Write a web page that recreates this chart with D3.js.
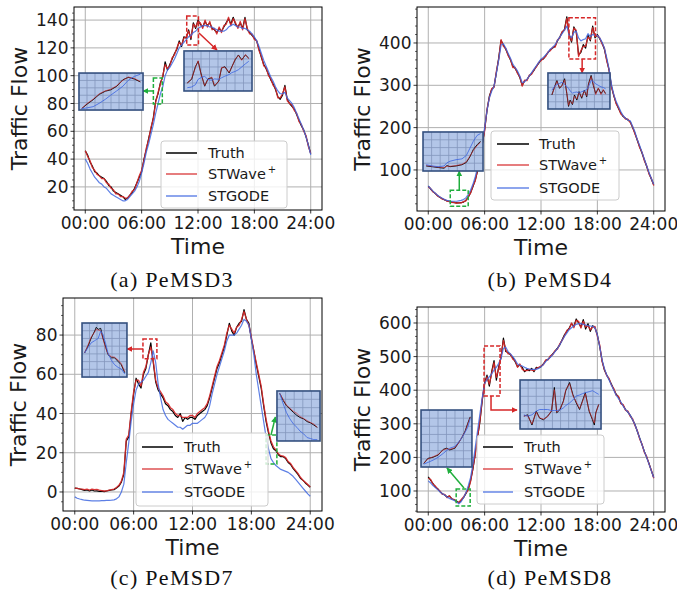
<!DOCTYPE html>
<html><head><meta charset="utf-8">
<script src="https://cdn.jsdelivr.net/npm/d3@7"></script>
<style>body{margin:0;background:#fff}svg{display:block}</style>
</head><body>
<script>
// ---------------- data (15-minute samples, 00:00 .. 24:00) ----------------
const STEP_HOURS = 0.25;
const xTickHours = [0, 6, 12, 18, 24];
const xTickLabels = ["00:00", "06:00", "12:00", "18:00", "24:00"];
const seriesNames = ["Truth", "STWave", "STGODE"];

const pemsd3Truth = [46,43,38,35,31,30,28,27,26,24,21,20, 17,16,15,14,13,11,12,14,16,19,23,27, 31,40,47,55,62,70,82,87,95,99,110,104, 108,112,116,119,125,121,128,127,133,126,138,134, 140,137,135,139,136,138,134,133,131,134,132,135, 138,141,137,142,137,135,138,134,142,133,131,129, 127,125,119,113,108,105,101,97,94,90,85,83, 86,93,83,80,78,76,72,68,64,61,56,50, 44];
const pemsd3STWave = [46,42,39,34,32,29,28,26,26,23,22,19, 18,15,15,13,13,12,12,14,17,18,23,28, 32,39,48,54,63,69,81,88,94,100,108,105, 107,113,115,120,124,122,127,128,132,127,137,135, 139,138,134,140,135,139,133,134,130,135,131,136, 137,142,136,141,138,134,139,133,141,134,130,130, 126,125,118,114,107,106,100,98,93,91,84,84, 87,92,82,80,79,75,73,67,65,60,57,49, 44];
const pemsd3STGODE = [40,37,33,30,27,25,23,22,20,19,17,15, 14,13,12,11,10,10,11,13,15,17,20,24, 30,37,45,51,58,65,73,80,87,92,100,104, 106,109,112,116,120,122,124,126,128,129,131,132, 134,135,136,136,136,135,135,134,133,132,132,132, 133,135,136,137,136,135,135,134,134,133,132,130, 128,125,121,116,111,107,103,99,96,92,89,87, 87,88,84,82,80,77,73,69,65,61,56,50, 43];
const pemsd3Ticks = [20, 40, 60, 80, 100, 120, 140];

const pemsd4Truth = [62,55,49,44,39,35,32,29,27,25,24,23, 22,22,23,24,28,35,46,60,76,98,124,160, 195,240,274,290,297,330,365,406,395,385,372,360, 345,340,330,318,300,310,313,322,328,335,345,352, 360,362,370,377,384,388,392,405,414,425,432,462, 420,402,438,426,372,378,396,388,418,405,440,412, 420,410,400,385,360,335,298,275,258,245,234,226, 222,218,214,200,187,170,155,140,124,108,92,78, 65];
const pemsd4STWave = [60,56,48,45,38,36,31,30,26,26,23,24, 21,23,22,25,27,37,45,62,74,100,122,162, 193,243,271,292,295,333,362,408,392,387,370,362, 342,342,328,320,298,312,311,324,326,337,343,354, 358,364,368,379,382,390,390,407,412,427,430,458, 418,405,435,430,368,382,392,392,414,408,436,416, 418,412,398,388,357,337,295,277,256,247,232,228, 220,220,212,202,185,172,153,142,122,110,90,80, 63];
const pemsd4STGODE = [62,56,50,45,40,36,33,30,28,27,26,26, 26,27,28,30,34,42,52,66,84,106,132,165, 200,240,270,286,298,328,360,395,398,388,376,364, 350,342,334,322,306,308,314,322,330,338,346,354, 362,366,372,378,386,390,396,406,414,422,430,440, 418,412,425,428,412,405,408,410,422,415,420,418, 418,412,402,388,365,338,302,278,262,250,238,228, 222,218,216,203,190,172,158,142,126,110,94,80, 66];
const pemsd4Ticks = [100, 200, 300, 400];

const pemsd7Truth = [2,1.8,1.5,1.2,0.8,1,0.5,1,0.5,0.6,0.3,0.4, 0.2,0.5,0.8,1,1.2,2,3,5,9,26,28,40, 50,58,55,53,60,63,70,76,66,56,52,50, 48,45,44,42,41,39,38,40,36,38,37,38, 38,37,39,40,41,42,44,48,53,58,63,66, 70,74,80,86,82,80,84,86,87,93,88,86, 78,72,65,59,53,44,36,30,25,22,21,19, 18,18,17,15,14,12,10.5,9,7,6,4.6,3.5, 2.4];
const pemsd7STWave = [2,1.8,1.6,1.5,1.2,1.4,1,1.5,1.2,1.3,0.9,0.7, 0.5,0.6,0.9,1.2,1.5,2.3,3.4,5.5,10,27,29,41, 51,57,57,54,61,64,70,74,67,57,53,51, 49,46,45,43,42,40,39,39,38,38,38,39, 39,38,40,41,42,43,45,49,54,59,64,67, 71,75,81,85,83,81,84,85,88,92,88,85, 79,72,66,60,54,45,37,31,26,23,21.5,19.5, 18.5,18.3,17.5,15.5,14.5,12.5,11,9.5,7.5,6,5,3.8, 2.6];
const pemsd7STGODE = [-2.5,-3.2,-3.6,-3.9,-4.2,-4.3,-4.4,-4.5,-4.5,-4.5,-4.5,-4.4, -4.4,-4.3,-4.3,-4.2,-4,-3.5,-2.5,0,4,15,25,36, 45,52,55,56,57,59,61,66,72,66,55,48, 42,39,37,36,35,34,33,33,32,33,34,34, 35,35,35,36,37,38,40,44,50,55,60,64, 68,72,77,80,80,80,81,83,85,88,87,85, 78,70,60,52,44,36,28,22,17,15,13.5,12.5, 11.5,11,10.5,10,9,8,6.5,5,3.5,2,0.5,-1, -2.2];
const pemsd7Ticks = [0, 20, 40, 60, 80];

const pemsd8Truth = [142,132,122,112,107,98,92,88,82,85,77,74, 70,65,72,80,92,105,130,165,210,260,306,370, 422,445,412,455,488,430,470,498,555,515,512,505, 496,485,470,475,468,455,462,458,465,455,468,466, 470,478,488,492,500,508,516,525,535,550,565,575, 585,598,590,612,600,588,610,582,598,575,592,585, 565,530,488,460,445,432,418,402,388,380,362,355, 342,335,325,312,298,278,258,238,218,200,182,160, 140];
const pemsd8STWave = [138,135,120,115,105,100,90,90,80,86,76,75, 68,66,74,82,94,103,128,168,208,262,310,375, 418,440,418,450,482,438,465,500,548,520,508,508, 492,488,468,478,462,458,458,462,460,458,465,468, 472,476,490,490,502,506,518,522,538,548,562,578, 582,600,586,608,605,585,605,588,592,580,588,590, 560,535,485,462,443,435,415,405,385,382,360,357, 340,338,322,315,295,280,255,240,215,203,180,162, 138];
const pemsd8STGODE = [130,124,116,110,104,98,92,88,82,78,75,72, 68,62,68,80,95,115,140,180,230,280,330,378, 420,432,440,448,460,468,480,495,525,528,515,508, 500,490,478,474,472,468,465,463,462,462,462,465, 470,476,485,492,498,506,515,524,535,548,560,570, 580,586,592,596,598,598,596,594,592,591,590,585, 565,530,490,465,445,430,415,400,385,375,365,352, 342,335,325,312,298,278,258,238,218,200,180,160, 140];
const pemsd8Ticks = [100, 200, 300, 400, 500, 600];

// zoomed windows shown in the insets (time in hours, flow values)
const zoomA1Time = [7.29,7.37,7.46,7.55,7.64,7.72,7.81,7.90,7.98,8.07,8.16];
const zoomA1Truth = [80.3,82.6,84.8,87.5,89.1,89.8,91.6,94.9,96.1,95.3,93.8];
const zoomA1STWave = [80.4,82.9,85.1,87.8,89.3,90.1,91.9,94.6,96.3,95.6,94.0];
const zoomA1STGODE = [80.3,80.7,81.3,83.0,85.0,87.1,89.3,91.6,94.6,96.6,97.7];

const zoomA2Time = [10.86,10.94,11.01,11.06,11.11,11.18,11.24,11.31,11.36,11.44,11.49,11.55,11.63,11.68,11.74,11.80,11.86,11.93,11.99];
const zoomA2Truth = [126.2,128.1,134.7,137.5,131.4,124.5,128.3,128.9,124.5,127.2,133.9,134.7,131.4,134.7,138.3,140.8,138.3,140.8,139.1];
const zoomA2STWave = [126.0,128.5,134.2,137.8,131.0,124.8,128.0,129.3,124.9,127.0,134.3,134.4,131.8,134.4,138.6,140.5,138.0,141.0,138.8];
const zoomA2STGODE = [123.7,124.1,125.3,128.1,128.9,129.7,127.9,127.6,128.3,128.1,128.9,129.7,130.6,131.6,132.2,133.1,134.5,136.2,137.5];

const zoomB1Time = [2.44,2.63,2.82,3.01,3.10,3.20,3.39,3.58,3.72,3.83,3.94,4.06,4.17];
const zoomB1Truth = [18.9,18.2,17.4,16.7,19.3,18.2,18.9,20.1,22.4,27.7,34.9,39.5,42.9];
const zoomB1STWave = [19.3,18.6,17.8,17.4,18.6,18.6,19.3,20.5,23.1,28.4,33.8,38.7,41.7];
const zoomB1STGODE = [20.1,18.9,18.2,18.9,22.0,23.5,25.0,25.8,29.2,36.0,42.9,48.6,50.5];

const zoomB2Time = [15.15,15.27,15.38,15.50,15.61,15.73,15.83,15.91,15.98,16.09,16.18,16.29,16.39,16.51,16.63,16.74,16.82,16.94,17.04,17.15,17.27,17.39,17.50,17.60];
const zoomB2Truth = [400,422,439,418,426,444,404,369,386,374,400,386,409,391,413,395,430,453,426,404,418,404,413,404];
const zoomB2STWave = [401,419,437,420,424,441,406,372,383,376,397,389,406,394,410,398,427,450,429,401,419,401,415,402];
const zoomB2STGODE = [413,423,428,431,435,428,423,418,411,405,407,408,405,409,411,415,422,439,437,430,426,422,420,417];

const zoomC1Time = [7.03,7.14,7.24,7.35,7.40,7.46,7.54,7.61,7.69,7.77,7.88,7.98,8.09,8.19,8.30];
const zoomC1Truth = [72.4,73.7,75.2,76.5,77.2,76.8,77.0,75.2,73.7,72.1,71.5,71.5,70.8,70.2,68.7];
const zoomC1STWave = [72.4,73.9,75.4,76.3,76.8,76.7,76.5,75.1,73.4,72.2,71.7,71.6,71.1,70.4,68.9];
const zoomC1STGODE = [72.4,73.4,74.3,74.7,74.9,75.1,76.5,75.9,74.3,72.4,71.0,70.2,69.7,69.4,68.5];

const zoomC2Time = [19.57,19.66,19.74,19.83,19.92,20.01,20.09,20.18,20.27,20.36,20.44,20.53];
const zoomC2Truth = [28.3,26.2,24.7,23.7,22.7,21.8,21.2,20.8,20.0,19.6,19.0,18.3];
const zoomC2STWave = [28.3,26.5,24.9,24.0,23.0,22.4,21.5,20.9,20.3,19.7,19.3,18.3];
const zoomC2STGODE = [28.3,25.2,22.7,20.8,19.3,18.3,17.2,16.4,15.3,15.0,14.7,14.7];

const zoomD1Time = [3.05,3.17,3.32,3.47,3.62,3.72,3.81,3.96,4.06,4.16,4.26,4.34,4.41];
const zoomD1Truth = [58.1,62.7,63.7,65.7,70.8,71.8,70.3,71.8,76.4,81.0,87.1,94.3,99.9];
const zoomD1STWave = [58.6,62.1,64.2,66.2,70.3,71.3,70.8,72.3,75.9,81.5,86.6,93.8,99.4];
const zoomD1STGODE = [57.6,59.1,61.1,63.7,67.2,69.8,71.8,73.4,76.9,81.0,86.1,90.7,98.4];

const zoomD2Time = [6.02,6.10,6.19,6.28,6.35,6.43,6.52,6.60,6.66,6.71,6.78,6.85,6.90,6.98,7.05,7.12,7.19,7.25,7.31,7.39,7.46,7.50,7.53,7.59];
const zoomD2Truth = [422,426,395,437,416,411,422,437,509,432,442,468,499,524,487,462,442,468,493,437,411,395,432,457];
const zoomD2STWave = [423,423,398,434,417,413,420,439,502,434,445,465,502,520,484,465,445,465,490,439,414,401,431,457];
const zoomD2STGODE = [426,422,426,437,442,442,442,439,439,439,441,447,454,462,471,483,486,490,493,496,499,496,493,488];

// ---------------- layout ----------------
const COLORS = { Truth: "#000000", STWave: "#d62728", STGODE: "#4169e1" };
const BOX_COLORS = { red: "#d62728", green: "#1fae3c" };
const INSET_FILL = "#b3c6e8", INSET_EDGE = "#34507f", INSET_GRID = "#8497bd";

const panels = [
  { frame: {l: 74, t: 7, r: 322, b: 210}, yDomain: [3.4, 149.4], yTicks: pemsd3Ticks, minorStep: 5,
    data: [pemsd3Truth, pemsd3STWave, pemsd3STGODE], ylabelX: 27,
    legend: {l: 161, t: 141, r: 287, b: 208, rows: [153, 174, 196], lx: [166, 197], tx: 208},
    caption: {text: "(a) PeMSD3", x: 172, y: 286.5},
    insets: [
      { rect: [-0.67, 6.15, 75.3, 101.9], box: [7.25, 8.2, 79.6, 98.3], color: "green", cols: 8, rows: 5,
        t: zoomA1Time, s: [zoomA1Truth, zoomA1STWave, zoomA1STGODE], arrow: [[7.25, 89], [6.15, 89]] },
      { rect: [10.51, 17.75, 89.0, 117.8], box: [10.8, 12.05, 122, 142.9], color: "red", cols: 8, rows: 5,
        t: zoomA2Time, s: [zoomA2Truth, zoomA2STWave, zoomA2STGODE], arrow: [[12.1, 130.7], [14.02, 118.5]] }
    ] },
  { frame: {l: 417, t: 7, r: 665, b: 211}, yDomain: [3, 485], yTicks: pemsd4Ticks, minorStep: 20,
    data: [pemsd4Truth, pemsd4STWave, pemsd4STGODE], ylabelX: 370,
    legend: {l: 491, t: 131, r: 619, b: 200, rows: [144, 165, 188], lx: [497, 529], tx: 539},
    caption: {text: "(b) PeMSD4", x: 550, y: 286.5},
    insets: [
      { rect: [-0.56, 5.83, 97.5, 189.7], box: [2.34, 4.25, 14, 52], color: "green", cols: 7, rows: 5,
        t: zoomB1Time, s: [zoomB1Truth, zoomB1STWave, zoomB1STGODE], arrow: [[3.3, 52], [3.3, 97.5]] },
      { rect: [12.74, 19.34, 244, 329.1], box: [14.97, 17.8, 362, 459.5], color: "red", cols: 8, rows: 5,
        t: zoomB2Time, s: [zoomB2Truth, zoomB2STWave, zoomB2STGODE], arrow: [[16.38, 362], [16.38, 329.1]] }
    ] },
  { frame: {l: 63, t: 298, r: 322, b: 511}, yDomain: [-9.7, 98.9], yTicks: pemsd7Ticks, minorStep: 5,
    data: [pemsd7Truth, pemsd7STWave, pemsd7STGODE], ylabelX: 26,
    legend: {l: 136, t: 433, r: 268, b: 506, rows: [447, 469, 492], lx: [142, 173], tx: 184},
    caption: {text: "(c) PeMSD7", x: 172, y: 585},
    insets: [
      { rect: [0.74, 5.32, 58.6, 86.15], box: [6.95, 8.37, 67.9, 78], color: "red", cols: 6, rows: 7,
        t: zoomC1Time, s: [zoomC1Truth, zoomC1STWave, zoomC1STGODE], arrow: [[6.95, 72.9], [5.32, 72.9]] },
      { rect: [20.61, 25.0, 26.0, 51.5], box: [19.5, 20.6, 14.3, 29], color: "green", cols: 5, rows: 6,
        t: zoomC2Time, s: [zoomC2Truth, zoomC2STWave, zoomC2STGODE], arrow: [[20.0, 29], [20.45, 38.2]] }
    ] },
  { frame: {l: 417, t: 307, r: 665, b: 512}, yDomain: [37.5, 647.6], yTicks: pemsd8Ticks, minorStep: 20,
    data: [pemsd8Truth, pemsd8STWave, pemsd8STGODE], ylabelX: 370,
    legend: {l: 477, t: 435, r: 604, b: 504, rows: [447, 469, 492], lx: [483, 513], tx: 524},
    caption: {text: "(d) PeMSD8", x: 550, y: 585},
    insets: [
      { rect: [-0.77, 4.65, 171.4, 341], box: [2.97, 4.46, 55, 106], color: "green", cols: 6, rows: 7,
        t: zoomD1Time, s: [zoomD1Truth, zoomD1STWave, zoomD1STGODE], arrow: [[3.8, 108.9], [1.99, 168.5]] },
      { rect: [9.77, 18.39, 284.5, 430.4], box: [5.94, 7.64, 383, 531.5], color: "red", cols: 10, rows: 6,
        t: zoomD2Time, s: [zoomD2Truth, zoomD2STWave, zoomD2STGODE], arrow: [[6.68, 383], [6.68, 341], [9.45, 341]] }
    ] }
];

// ---------------- drawing ----------------
const W = 677, H = 597;
const SANS = "DejaVu Sans, sans-serif";
const svg = d3.select("body").append("svg").attr("width", W).attr("height", H)
  .attr("font-family", SANS);
const defs = svg.append("defs");
Object.entries(BOX_COLORS).forEach(([k, c]) => {
  defs.append("marker").attr("id", "arrow-" + k).attr("viewBox", "0 0 10 10")
    .attr("refX", 9).attr("refY", 5).attr("markerWidth", 6).attr("markerHeight", 6)
    .attr("markerUnits", "userSpaceOnUse").attr("orient", "auto")
    .append("path").attr("d", "M0,0L10,5L0,10z").attr("fill", c);
});

const hours = d3.range(pemsd3Truth.length).map(i => i * STEP_HOURS);

panels.forEach((p, pi) => {
  const f = p.frame;
  const x = d3.scaleLinear().domain([-1.2, 25.2]).range([f.l, f.r]);
  const y = d3.scaleLinear().domain(p.yDomain).range([f.b, f.t]);
  const g = svg.append("g");

  // grid
  g.append("g").selectAll("line").data(xTickHours).join("line")
    .attr("x1", d => x(d)).attr("x2", d => x(d)).attr("y1", f.t).attr("y2", f.b)
    .attr("stroke", "#b0b0b0").attr("stroke-width", 1);
  g.append("g").selectAll("line").data(p.yTicks).join("line")
    .attr("y1", d => y(d)).attr("y2", d => y(d)).attr("x1", f.l).attr("x2", f.r)
    .attr("stroke", "#b0b0b0").attr("stroke-width", 1);

  // lines
  const clipId = "clip" + pi;
  defs.append("clipPath").attr("id", clipId).append("rect")
    .attr("x", f.l).attr("y", f.t).attr("width", f.r - f.l).attr("height", f.b - f.t);
  const line = d3.line().x((d, i) => x(hours[i])).y(d => y(d));
  const lg = g.append("g").attr("clip-path", `url(#${clipId})`);
  p.data.forEach((s, si) => {
    lg.append("path").attr("d", line(s)).attr("fill", "none")
      .attr("stroke", COLORS[seriesNames[si]]).attr("stroke-width", si === 1 ? 1.3 : 1.2)
      .attr("stroke-opacity", si === 0 ? 1 : (si === 1 ? 0.92 : 0.85)).attr("stroke-linejoin", "round");
  });

  // frame
  g.append("rect").attr("x", f.l).attr("y", f.t).attr("width", f.r - f.l).attr("height", f.b - f.t)
    .attr("fill", "none").attr("stroke", "#000").attr("stroke-width", 1);

  // ticks
  g.append("g").selectAll("line").data(xTickHours).join("line")
    .attr("x1", d => x(d)).attr("x2", d => x(d)).attr("y1", f.b).attr("y2", f.b + 3.5)
    .attr("stroke", "#000").attr("stroke-width", 0.8);
  g.append("g").selectAll("text").data(xTickHours).join("text")
    .attr("x", d => x(d)).attr("y", f.b + 18.5).attr("text-anchor", "middle")
    .attr("font-size", 17).attr("fill", "#1a1a1a").text((d, i) => xTickLabels[i]);
  g.append("g").selectAll("line").data(p.yTicks).join("line")
    .attr("y1", d => y(d)).attr("y2", d => y(d)).attr("x1", f.l - 3.5).attr("x2", f.l)
    .attr("stroke", "#000").attr("stroke-width", 0.8);
  const minor = d3.range(Math.ceil(p.yDomain[0] / p.minorStep) * p.minorStep, p.yDomain[1], p.minorStep)
    .filter(v => !p.yTicks.includes(v));
  g.append("g").selectAll("line").data(minor).join("line")
    .attr("y1", d => y(d)).attr("y2", d => y(d)).attr("x1", f.l - 2).attr("x2", f.l)
    .attr("stroke", "#000").attr("stroke-width", 0.6);
  g.append("g").selectAll("text").data(p.yTicks).join("text")
    .attr("x", f.l - 5.5).attr("y", d => y(d)).attr("dy", "0.36em").attr("text-anchor", "end")
    .attr("font-size", 17).attr("fill", "#1a1a1a").text(d => d);

  // axis labels
  g.append("text").attr("transform", `translate(${p.ylabelX},${(f.t + f.b) / 2}) rotate(-90)`)
    .attr("text-anchor", "middle").attr("font-size", 22).attr("fill", "#1a1a1a").text("Traffic Flow");
  g.append("text").attr("x", (f.l + f.r) / 2).attr("y", f.b + 43.5).attr("text-anchor", "middle")
    .attr("font-size", 22).attr("fill", "#1a1a1a").text("Time");

  // caption
  g.append("text").attr("x", p.caption.x).attr("y", p.caption.y).attr("text-anchor", "middle")
    .attr("font-family", "Liberation Serif, Times New Roman, serif").attr("font-size", 22)
    .attr("letter-spacing", 1.3).attr("fill", "#111").text(p.caption.text);

  // zoom boxes, arrows, insets
  p.insets.forEach(ins => {
    const c = BOX_COLORS[ins.color];
    const [bt0, bt1, bv0, bv1] = ins.box;
    g.append("rect").attr("x", x(bt0)).attr("y", y(bv1)).attr("width", x(bt1) - x(bt0))
      .attr("height", y(bv0) - y(bv1)).attr("fill", "none").attr("stroke", c)
      .attr("stroke-width", 1.5).attr("stroke-dasharray", "4,2");
    g.append("path").attr("d", d3.line().x(d => x(d[0])).y(d => y(d[1]))(ins.arrow))
      .attr("fill", "none").attr("stroke", c).attr("stroke-width", 1.5)
      .attr("marker-end", `url(#arrow-${ins.color})`);

    const [rt0, rt1, rv0, rv1] = ins.rect;
    const ix0 = x(rt0), ix1 = x(rt1), iy0 = y(rv1), iy1 = y(rv0);
    const ig = g.append("g");
    ig.append("rect").attr("x", ix0).attr("y", iy0).attr("width", ix1 - ix0).attr("height", iy1 - iy0)
      .attr("fill", INSET_FILL);
    const sx = d3.scaleLinear().domain([bt0, bt1]).range([ix0, ix1]);
    const sy = d3.scaleLinear().domain([bv0, bv1]).range([iy1, iy0]);
    const gx = d3.range(1, ins.cols).map(k => bt0 + (bt1 - bt0) * k / ins.cols);
    const gy = d3.range(1, ins.rows).map(k => bv0 + (bv1 - bv0) * k / ins.rows);
    ig.selectAll(".gx").data(gx).join("line").attr("x1", d => sx(d)).attr("x2", d => sx(d))
      .attr("y1", iy0).attr("y2", iy1).attr("stroke", INSET_GRID).attr("stroke-width", 0.8);
    ig.selectAll(".gy").data(gy).join("line").attr("y1", d => sy(d)).attr("y2", d => sy(d))
      .attr("x1", ix0).attr("x2", ix1).attr("stroke", INSET_GRID).attr("stroke-width", 0.8);
    const icl = "iclip" + pi + ins.color;
    defs.append("clipPath").attr("id", icl).append("rect")
      .attr("x", ix0).attr("y", iy0).attr("width", ix1 - ix0).attr("height", iy1 - iy0);
    const il = d3.line().x((d, i) => sx(ins.t[i])).y(d => sy(d));
    const ilg = ig.append("g").attr("clip-path", `url(#${icl})`);
    ins.s.forEach((s, si) => {
      ilg.append("path").attr("d", il(s)).attr("fill", "none")
        .attr("stroke", COLORS[seriesNames[si]]).attr("stroke-width", 1)
        .attr("stroke-opacity", si === 0 ? 0.9 : (si === 1 ? 0.6 : 0.85));
    });
    ig.append("rect").attr("x", ix0).attr("y", iy0).attr("width", ix1 - ix0).attr("height", iy1 - iy0)
      .attr("fill", "none").attr("stroke", INSET_EDGE).attr("stroke-width", 1.6);
  });

  // legend
  const L = p.legend;
  const leg = g.append("g");
  leg.append("rect").attr("x", L.l).attr("y", L.t).attr("width", L.r - L.l).attr("height", L.b - L.t)
    .attr("rx", 3).attr("fill", "#fff").attr("fill-opacity", 0.8).attr("stroke", "#cccccc");
  seriesNames.forEach((n, i) => {
    leg.append("line").attr("x1", L.lx[0]).attr("x2", L.lx[1]).attr("y1", L.rows[i]).attr("y2", L.rows[i])
      .attr("stroke", COLORS[n]).attr("stroke-width", 1.5).attr("stroke-opacity", i === 0 ? 1 : 0.8);
    const t = leg.append("text").attr("x", L.tx).attr("y", L.rows[i] + 5.2)
      .attr("font-size", 14.5).attr("fill", "#1a1a1a");
    t.append("tspan").text(n);
    if (n === "STWave") t.append("tspan").attr("dx", 2).attr("dy", -6).attr("font-size", 10).text("+");
  });
});
</script>
</body></html>
